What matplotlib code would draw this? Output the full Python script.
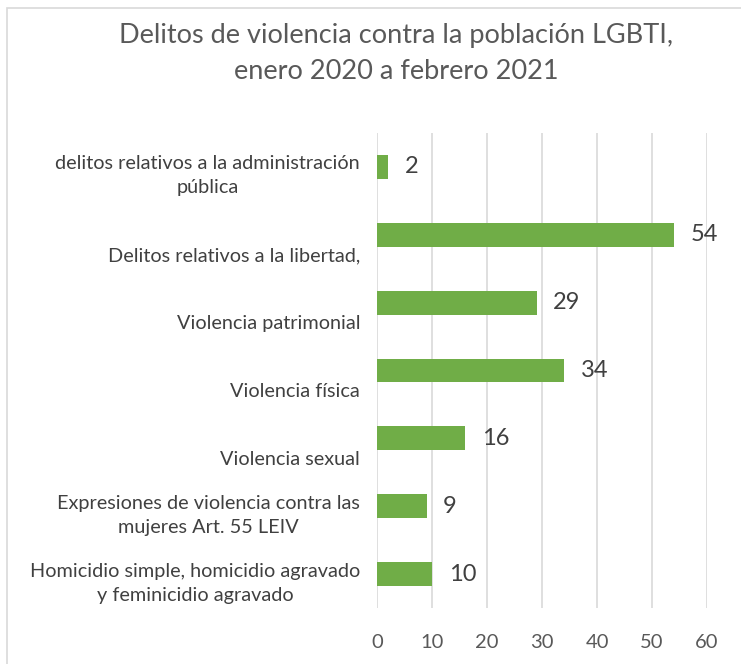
import matplotlib
matplotlib.use("Agg")
import matplotlib.pyplot as plt
from matplotlib.patches import Rectangle
from matplotlib.transforms import blended_transform_factory, offset_copy

plt.rcParams['font.family'] = ['Lato', 'DejaVu Sans']

# categorias de arriba hacia abajo
categorias = [
    "delitos relativos a la administración\npública",
    "\nDelitos relativos a la libertad,",
    "\nViolencia patrimonial",
    "\nViolencia física",
    "\nViolencia sexual",
    "Expresiones de violencia contra las\nmujeres Art. 55 LEIV",
    "Homicidio simple, homicidio agravado\ny feminicidio agravado",
]
valores = [2, 54, 29, 34, 16, 9, 10]
ticks = [0, 10, 20, 30, 40, 50, 60]

verde = "#70AD47"
gris = "#404040"

fig = plt.figure(figsize=(7.41, 6.64), dpi=100)
fig.patches.append(Rectangle((0.009, -0.01), 1.0, 0.998, transform=fig.transFigure,
                             fill=False, edgecolor="#D9D9D9", linewidth=1.2))
ax = fig.add_axes([0.5088, 0.0843, 0.4454, 0.7154])

pos = list(range(len(categorias)))
ax.barh(pos, valores, height=0.35, color=verde, zorder=3)
ax.set_ylim(len(categorias) - 0.5, -0.5)
ax.set_xlim(0, 60)
ax.set_xticks(ticks)
ax.set_yticks([])
ax.grid(axis='x', color="#D9D9D9", linewidth=1.2, zorder=0)
for s in ax.spines.values():
    s.set_visible(False)
ax.tick_params(axis='x', length=0, pad=19, labelsize=14.5, labelcolor="#595959")

for y, v in zip(pos, valores):
    ax.annotate(str(v), (v, y), xytext=(12, 0), textcoords='offset points',
                ha='left', va='center', fontsize=17, color=gris)

tr = offset_copy(blended_transform_factory(ax.transAxes, ax.transData),
                 fig=fig, x=-17, y=0, units='dots')
for y, c in zip(pos, categorias):
    ax.text(0, y - 0.17, c, transform=tr, ha='right', va='top',
            multialignment='center', fontsize=14.3, color=gris, linespacing=1.5)

fig.text(0.535, 0.965, "Delitos de violencia contra la población LGBTI,\nenero 2020 a febrero 2021",
         ha='center', va='top', fontsize=19.5, color="#595959", linespacing=1.55)

fig.savefig("out.png", dpi=100)
